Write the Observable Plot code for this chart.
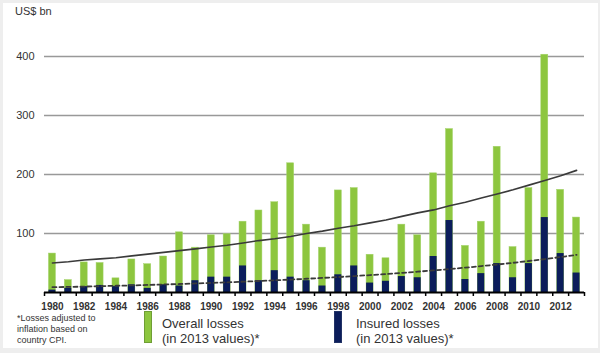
<!DOCTYPE html>
<html>
<head>
<meta charset="utf-8">
<script src="https://cdn.jsdelivr.net/npm/d3@7"></script>
<script src="https://cdn.jsdelivr.net/npm/@observablehq/plot@0.6"></script>
<style>
  html, body { margin: 0; padding: 0; }
  body { width: 600px; height: 353px; background: #eeeeee; position: relative; overflow: hidden;
         font-family: "Liberation Sans", Arial, sans-serif; color: #333; }
  #panel { position: absolute; left: 3px; top: 3px; width: 595px; height: 345px; background: #fff; }
  #chart { position: absolute; left: 0; top: 0; }
  .abs { position: absolute; white-space: nowrap; }
  #unit { left: 15px; top: 5px; font-size: 11px; color: #333; }
  #note { left: 17px; top: 313px; font-size: 9px; line-height: 11px; color: #333; }
  .sw { position: absolute; width: 8px; height: 32px; box-sizing: border-box; }
  .lg { position: absolute; font-size: 13px; line-height: 15px; color: #333; }
</style>
</head>
<body>
<div id="panel"></div>
<div id="chart"></div>
<div id="unit" class="abs">US$ bn</div>
<div id="note" class="abs">*Losses adjusted to<br>inflation based on<br>country CPI.</div>
<div id="legend"></div>
<script>
const years = [1980,1981,1982,1983,1984,1985,1986,1987,1988,1989,1990,1991,1992,1993,1994,1995,1996,
               1997,1998,1999,2000,2001,2002,2003,2004,2005,2006,2007,2008,2009,2010,2011,2012,2013];
const overall = [66,21,51,50,24,56,48,61,102,76,97,99,120,139,153,219,115,76,173,177,64,58,115,97,202,277,79,120,247,77,177,403,174,127];
const insured = [4,7,10,12,10,13,7,13,11,20,26,26,45,20,37,26,20,11,30,45,16,19,27,25,61,122,22,32,49,25,49,127,66,33];
const overallTrend = [50,52,55,57,59,62,65,68,71,74,77,80,84,88,91,95,100,104,109,113,118,123,129,135,140,147,153,160,167,174,182,190,198,207];
const insuredTrend = [9,9.5,10,10.7,11.4,12,12.8,13.6,14.4,15.3,16.3,17.3,18.3,19.5,20.7,21.9,23.3,24.7,26.2,27.8,29.5,31.3,33.2,35.3,37.4,39.7,42.1,44.7,47.4,50.3,53.4,56.6,60.1,63.8];
const yTicks = [100,200,300,400];
const xLabelYears = [1980,1982,1984,1986,1988,1990,1992,1994,1996,1998,2000,2002,2004,2006,2008,2010,2012];
const seriesNames = ["Overall losses\n(in 2013 values)*", "Insured losses\n(in 2013 values)*"];
const colors = ["#8dc63f", "#0b1d5b"];

const rows = years.map((yr, i) => ({year: yr, overall: overall[i], insured: insured[i],
                                     ot: overallTrend[i], it: insuredTrend[i]}));
const boundaries = years.map(y => y - 0.5).concat([years[years.length - 1] + 0.5]);
const half = 0.22;

const chart = Plot.plot({
  width: 600,
  height: 315,
  marginLeft: 44,
  marginRight: 16,
  marginTop: 56,
  marginBottom: 23,
  style: {background: "transparent", fontFamily: "Liberation Sans, Arial, sans-serif", color: "#333"},
  x: {type: "linear", domain: [years[0] - 0.5, years[years.length - 1] + 0.5], label: null},
  y: {domain: [0, 400], label: null},
  marks: [
    Plot.ruleY(yTicks, {stroke: "#999", strokeWidth: 1.5}),
    Plot.rectY(rows, {x1: d => d.year - half, x2: d => d.year + half, y1: 0, y2: "overall", fill: colors[0], stroke: "#a3d36a", strokeWidth: 0.5}),
    Plot.rectY(rows, {x1: d => d.year - half, x2: d => d.year + half, y1: 0, y2: "insured", fill: colors[1]}),
    Plot.line(rows, {x: "year", y: "ot", stroke: "#3a3a3a", strokeWidth: 1.6}),
    Plot.line(rows, {x: "year", y: "it", stroke: "#3a3a3a", strokeWidth: 1.8, strokeDasharray: "4,3"}),
    Plot.ruleY([0], {stroke: "#000", strokeWidth: 2}),
    Plot.axisX({ticks: boundaries, tickSize: 4, tickFormat: () => "", stroke: "#000", strokeWidth: 1.5, label: null}),
    Plot.axisX({ticks: xLabelYears, tickSize: 0, tickPadding: 10, tickFormat: d => String(d),
                fontSize: 10, fontWeight: "bold", fill: "#333", label: null}),
    Plot.axisY({ticks: yTicks, tickSize: 0, tickPadding: 10, fontSize: 11, fill: "#333", label: null})
  ]
});
document.getElementById("chart").appendChild(chart);

const legend = document.getElementById("legend");
const lgPos = [{sx: 144, tx: 162}, {sx: 334, tx: 356}];
seriesNames.forEach((name, i) => {
  const sw = document.createElement("div");
  sw.className = "sw";
  sw.style.left = lgPos[i].sx + "px";
  sw.style.top = "311px";
  sw.style.background = colors[i];
  sw.style.border = "1px solid " + (i === 0 ? "#6f9e35" : "#223366");
  legend.appendChild(sw);
  const t = document.createElement("div");
  t.className = "lg";
  t.style.left = lgPos[i].tx + "px";
  t.style.top = "316px";
  t.innerHTML = name.split("\n").join("<br>");
  legend.appendChild(t);
});
</script>
</body>
</html>
